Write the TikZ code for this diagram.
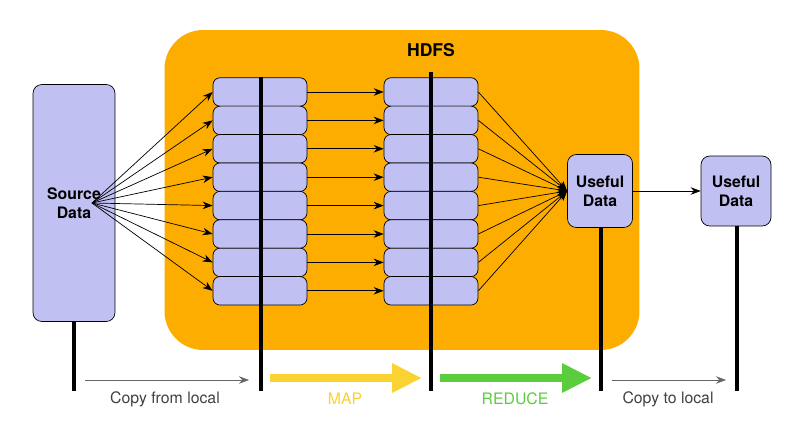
\documentclass[tikz,border=0pt]{standalone}
\usepackage{fontspec}
\setmainfont{TeX Gyre Heros}
\usetikzlibrary{arrows.meta}
\definecolor{hdfsorange}{RGB}{253,172,0}
\definecolor{blockblue}{RGB}{192,192,242}
\definecolor{mapyellow}{RGB}{250,210,50}
\definecolor{redgreen}{RGB}{90,205,60}
\begin{document}
\begin{tikzpicture}
[
    x=0.02cm, y=-0.02cm,
    block/.style={rectangle,rounded corners=4pt,draw=black,fill=blockblue,minimum width=1.88cm,minimum height=0.57cm},
    databox/.style={rectangle,rounded corners=5pt,draw=black,fill=blockblue,align=center,font=\bfseries\small},
    axis/.style={line width=2.2pt},
    flow/.style={-{Stealth[length=2mm]},thin},
    phase/.style={line width=4.5pt,-{Triangle[length=6mm,width=5.5mm]}},
    phaselabel/.style={font=\small},
]
\useasboundingbox (0,0) rectangle (800,431);

\node (hdfs) at (402,190) [rectangle,rounded corners=22pt,fill=hdfsorange,minimum width=9.5cm,minimum height=6.4cm] {};
\node at (431,50) {\bfseries HDFS};

\node (src) at (74,203) [databox,minimum width=1.64cm,minimum height=4.74cm] {Source\\Data};
\node (use1) at (600,191) [databox,minimum width=1.3cm,minimum height=1.46cm] {Useful\\Data};
\node (use2) at (736,191) [databox,minimum width=1.4cm,minimum height=1.4cm] {Useful\\Data};
\coordinate (fan) at (92,203);

\foreach \i in {0,...,7} {
    \node (m\i) at (260,{92+28.4*\i}) [block] {};
    \node (r\i) at (431,{92+28.4*\i}) [block] {};
}
\foreach \i in {0,...,7} {
    \draw[flow] (fan) -- (m\i.west);
    \draw[flow] (m\i.east) -- (r\i.west);
    \draw[flow] (r\i.east) -- (use1.west);
}
\draw[flow] (use1.east) -- (use2.west);

% time lines
\coordinate (b0) at (74,391);
\coordinate (b1) at (261,391);
\coordinate (b2) at (431,391);
\coordinate (b3) at (601,391);
\coordinate (b4) at (737,391);
\draw[axis] (src.south) -- (b0);
\draw[axis] (m0.north -| b1) -- (b1);
\draw[axis] ([yshift=3pt]r0.north -| b2) -- (b2);
\draw[axis] (use1.south -| b3) -- (b3);
\draw[axis] (use2.south -| b4) -- (b4);

\coordinate (c0) at (85,380);
\coordinate (c1) at (249,380);
\draw[-{Stealth[length=2mm]},gray!80!black] (c0) -- (c1);
\node[phaselabel,gray!50!black] at (165,399) {Copy from local};

\coordinate (y0) at (270,378);
\coordinate (y1) at (422,378);
\draw[phase,mapyellow] (y0) -- (y1);
\node[phaselabel,mapyellow] at (345,399) {MAP};

\coordinate (g0) at (440,378);
\coordinate (g1) at (592,378);
\draw[phase,redgreen] (g0) -- (g1);
\node[phaselabel,redgreen] at (515,399) {REDUCE};

\coordinate (d0) at (612,380);
\coordinate (d1) at (726,380);
\draw[-{Stealth[length=2mm]},gray!80!black] (d0) -- (d1);
\node[phaselabel,gray!50!black] at (668,399) {Copy to local};
\end{tikzpicture}
\end{document}
